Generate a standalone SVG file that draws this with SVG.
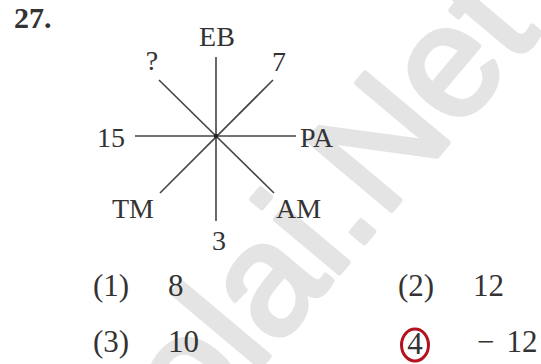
<svg xmlns="http://www.w3.org/2000/svg" width="541" height="364" viewBox="0 0 541 364">
<style>
.wm{font-family:"Liberation Sans",Arial,sans-serif;font-size:158px;fill:#e4e4e4;stroke:#e4e4e4;stroke-width:5px;stroke-linejoin:round}
.lbl{font-family:"Liberation Serif","Times New Roman",serif;font-size:28px;fill:#333}
.opt{font-family:"Liberation Serif","Times New Roman",serif;font-size:31px;fill:#333}
.ray{stroke:#444;stroke-width:1.6;fill:none}
</style>
<rect width="541" height="364" fill="#fff"/>
<g id="watermark" transform="translate(355,254) rotate(-50)">
<text class="wm" x="0" y="0" text-anchor="end">Kalvisolai</text>
<text class="wm" x="0" y="0">.Net</text>
</g>
<text id="qnum" x="14" y="28" font-family="Liberation Serif, Times New Roman, serif" font-size="30" font-weight="bold" fill="#333">27.</text>
<g id="connectors">
<line class="ray" x1="216" y1="57" x2="216" y2="221"/>
<line class="ray" x1="135" y1="136" x2="296" y2="136"/>
<line class="ray" x1="159" y1="80" x2="274" y2="193"/>
<line class="ray" x1="273" y1="80" x2="160" y2="193"/>
<circle cx="216" cy="136" r="2.2" fill="#222"/>
</g>
<g id="n-EB"><text class="lbl" x="217" y="46" text-anchor="middle">EB</text></g>
<g id="n-q"><text class="lbl" x="152" y="70" text-anchor="middle">?</text></g>
<g id="n-7"><text class="lbl" x="279" y="71" text-anchor="middle">7</text></g>
<g id="n-15"><text class="lbl" x="97" y="147">15</text></g>
<g id="n-PA"><text class="lbl" x="300" y="147">PA</text></g>
<g id="n-TM"><text class="lbl" x="112" y="218">TM</text></g>
<g id="n-AM"><text class="lbl" x="276" y="218">AM</text></g>
<g id="n-3"><text class="lbl" x="219" y="250" text-anchor="middle">3</text></g>
<g id="opt1"><text class="opt" x="93" y="296">(1)</text><text class="opt" x="168" y="296">8</text></g>
<g id="opt2"><text class="opt" x="398" y="296">(2)</text><text class="opt" x="473" y="296">12</text></g>
<g id="opt3"><text class="opt" x="93" y="352">(3)</text><text class="opt" x="168" y="352">10</text></g>
<g id="opt4">
<ellipse cx="415" cy="345" rx="13.5" ry="16" fill="none" stroke="#b3121f" stroke-width="3"/>
<text class="opt" x="415" y="354" text-anchor="middle" font-size="25">4</text>
<text class="opt" x="477" y="352">−<tspan dx="12">12</tspan></text>
</g>
</svg>
